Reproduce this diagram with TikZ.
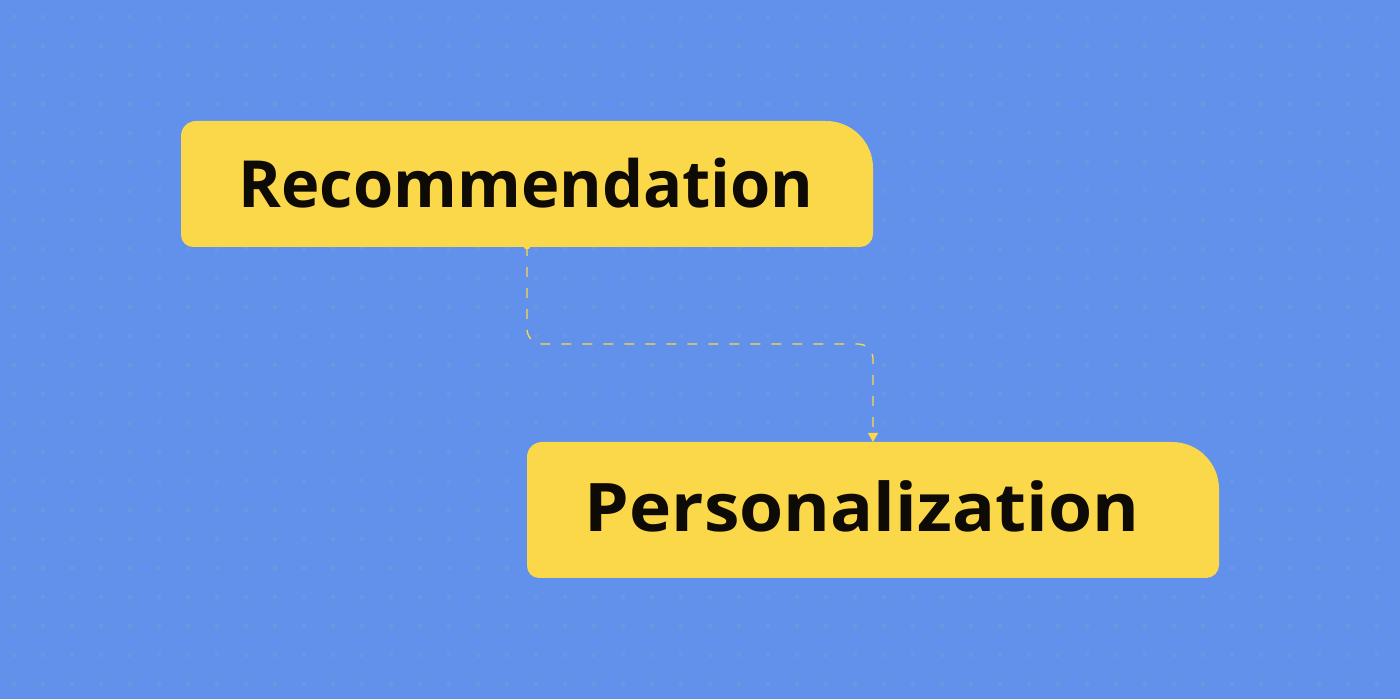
\documentclass[tikz,border=0pt]{standalone}
\usepackage{fontspec}
\setmainfont{Open Sans}
\usetikzlibrary{arrows.meta,backgrounds}
\definecolor{bgblue}{RGB}{97,145,235}
\definecolor{dotblue}{RGB}{108,150,224}
\definecolor{boxyellow}{RGB}{251,216,74}
\definecolor{inkdark}{RGB}{14,11,6}
\tikzset{
  boxnode/.style={minimum width=692pt, inner sep=0pt, outer sep=0pt},
  labeltext/.style={font=\fontsize{65}{70}\selectfont\bfseries, text=inkdark, inner sep=0pt, anchor=base},
  flow/.style={draw=boxyellow, line width=1.3pt, dash pattern=on 10pt off 11pt, rounded corners=15pt,
    -{Triangle[length=9pt,width=10pt]}},
}
% rounded box: top-left r1, top-right r2, bottom-right r3, bottom-left r4
\newcommand{\tagbox}[5]{%
  \fill[boxyellow] ([xshift=#2]#1.north west) -- ([xshift=-#3]#1.north east)
    arc[start angle=90,end angle=0,radius=#3]
    -- ([yshift=#4]#1.south east) arc[start angle=0,end angle=-90,radius=#4]
    -- ([xshift=#5]#1.south west) arc[start angle=270,end angle=180,radius=#5]
    -- ([yshift=-#2]#1.north west) arc[start angle=180,end angle=90,radius=#2] -- cycle;}
\begin{document}
\begin{tikzpicture}[x=1pt,y=1pt]
  \fill[bgblue] (0,0) rectangle (1400,699);
  \useasboundingbox (0,0) rectangle (1400,699);
  % faint dot grid
  \foreach \i in {0,...,48} {
    \foreach \j in {0,...,23} {
      \fill[dotblue] (14+29*\i-2, 699-17-29*\j-2) rectangle ++(4,4);
    }
  }
  % boxes
  \node[boxnode, minimum height=126pt] (rec) at (527,515) {};
  \node[boxnode, minimum height=136pt] (per) at (873,189) {};
  \tagbox{rec}{15pt}{47pt}{13pt}{12pt}
  \tagbox{per}{15pt}{47pt}{13pt}{12pt}
  \node[labeltext] (rectext) at (526,491) {Recommendation};
  \node[labeltext, font=\fontsize{67}{72}\selectfont\bfseries] (pertext) at (862,167)
    {\scalebox{1.065}[1]{Personalization}};
  % connector
  \coordinate (start) at ([yshift=1pt]rec.south);
  \fill[boxyellow] (start) circle (3.5pt);
  \draw[flow] (start) -- (527,355) -- (873,355) -- (per.north);
\end{tikzpicture}
\end{document}
